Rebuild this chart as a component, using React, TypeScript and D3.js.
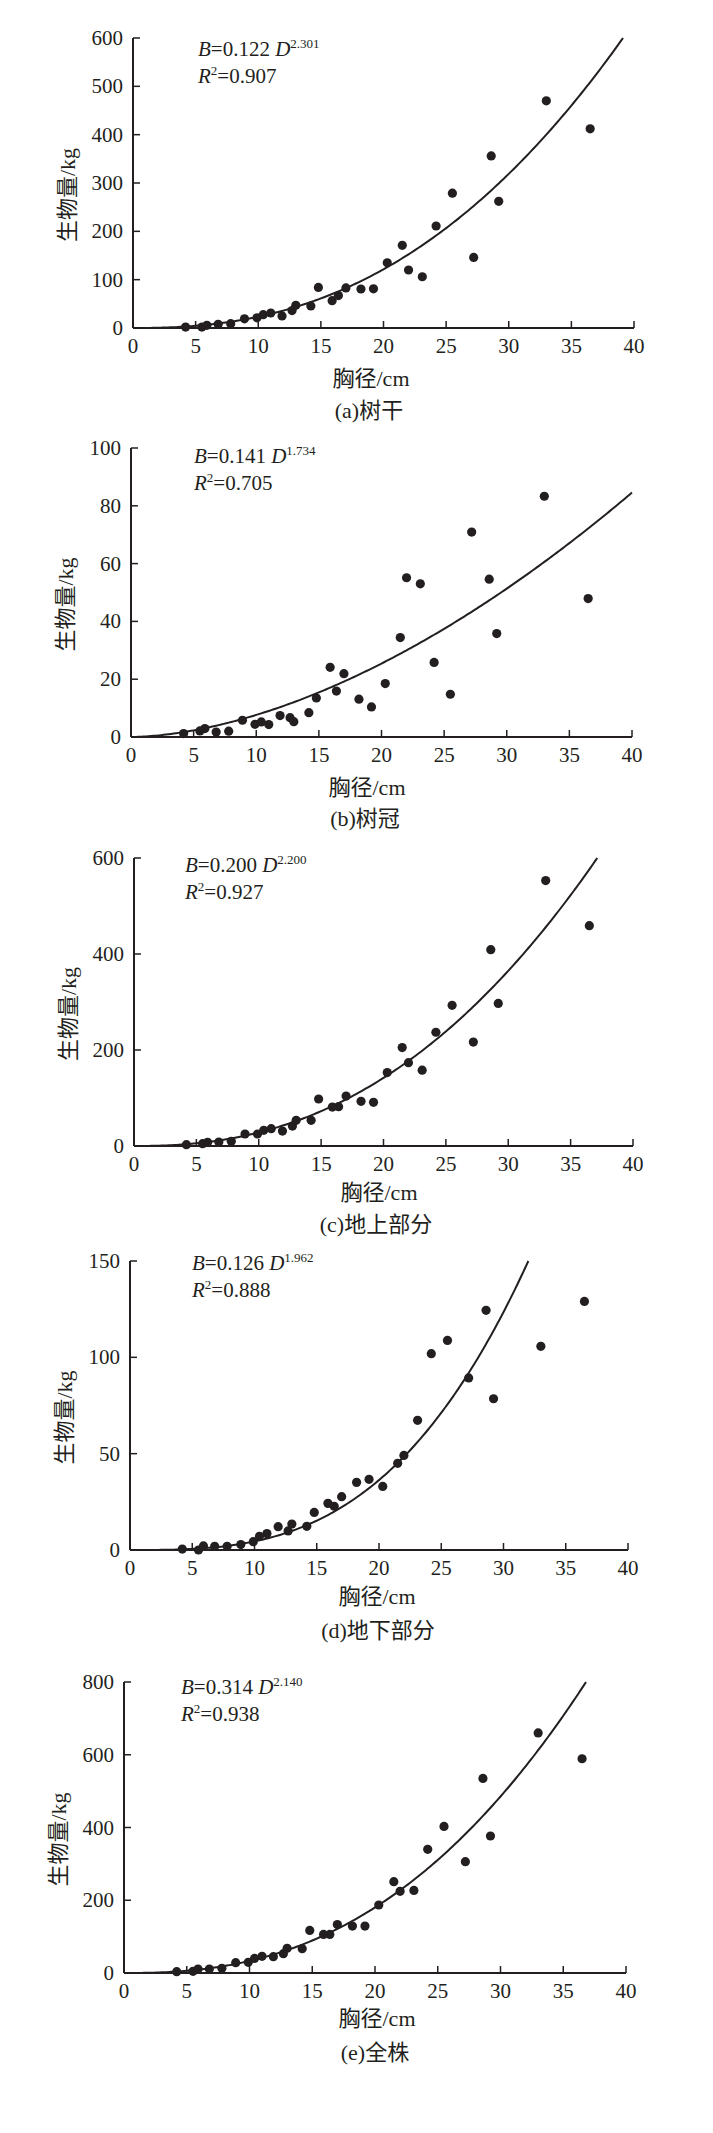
import * as React from 'react';
import * as d3 from 'd3';

// breast-height diameter (cm) of the sampled trees, shared by all panels
const dbh = [4.2, 5.5, 5.9, 6.8, 7.8, 8.9, 9.9, 10.4, 11.0, 11.9, 12.7, 13.0, 14.2, 14.8, 15.9,
  16.4, 17.0, 18.2, 19.2, 20.3, 21.5, 22.0, 23.1, 24.2, 25.5, 27.2, 28.6, 29.2, 33.0, 36.5];

// biomass (kg) per tree
const stemMass = [2, 2, 5.5, 7.6, 9, 19, 21, 27.6, 31, 25, 36, 47, 45.5, 84, 56.5,
  67, 83, 80.7, 81, 135, 171, 120, 106, 211, 279, 146, 356, 262, 470, 412];
const crownMass = [1.2, 2.1, 2.9, 1.7, 2, 5.8, 4.4, 5.2, 4.3, 7.4, 6.7, 5.3, 8.4, 13.5, 24.1,
  15.9, 21.9, 13.1, 10.4, 18.5, 34.4, 55.1, 53, 25.8, 14.8, 70.9, 54.6, 35.8, 83.3, 47.9];
const aboveMass = [2.8, 4.9, 7.6, 8.3, 9.7, 25, 25, 32.6, 36, 31, 41.6, 53.4, 53.4, 97.9, 81,
  82, 104, 93, 91, 153, 205, 173.5, 158, 237, 293, 216.5, 409, 297, 553, 459];
const belowMass = [0.5, 0, 2.1, 1.9, 1.9, 2.8, 4.3, 7.1, 8.5, 12.1, 9.9, 13.5, 12.3, 19.5, 24.2,
  22.7, 27.7, 35.1, 36.7, 33, 45, 49.1, 67.3, 101.9, 108.8, 89.3, 124.4, 78.5, 105.7, 129];
const totalMass = [3.7, 4.6, 11, 11, 12.8, 28.4, 29.3, 40, 45.8, 45, 53, 67.8, 67, 117, 106,
  106, 133, 129, 129, 187, 251, 224.5, 227, 340, 403, 306, 535, 376.6, 660, 589];

const seriesList = [stemMass, crownMass, aboveMass, belowMass, totalMass];
const captions = ['(a)树干', '(b)树冠', '(c)地上部分', '(d)地下部分', '(e)全株'];
const coefText = ['0.122', '0.141', '0.200', '0.126', '0.314'];
const expText = ['2.301', '1.734', '2.200', '1.962', '2.140'];
const r2Text = ['0.907', '0.705', '0.927', '0.888', '0.938'];
const yMaxList = [600, 100, 600, 150, 800];
const yStepList = [100, 20, 200, 50, 200];
const xTicks = [0, 5, 10, 15, 20, 25, 30, 35, 40];
// power curve B = a * D^b as drawn in each panel
const curveA = [0.0973, 0.141, 0.132, 0.004273, 0.1195];
const curveB = [2.38, 1.734, 2.33, 3.02, 2.443];
const curveStart = [0, 0, 0, 0.7, 0];

// layout (pixels)
const leftList = [133, 131, 134, 130, 124];
const rightList = [634, 632, 633, 628, 626];
const topList = [38, 448, 858, 1261, 1682];
const bottomList = [328, 737, 1146, 1550, 1973];
const eqXList = [198, 194, 185, 192, 181];
const eqDyList = [18, 15, 14, 9, 12];
const titleXList = [371, 367, 379, 377, 377];
const titleDyList = [58, 58, 54, 54, 53];
const captionXList = [369, 365, 376, 378, 375];
const captionDyList = [90, 89, 86, 88, 87];

const ink = '#231f20';
const serif = "'Liberation Serif', 'Times New Roman', 'Noto Sans CJK SC', serif";

function Panel({ i }: { i: number }) {
  const left = leftList[i], right = rightList[i], top = topList[i], bottom = bottomList[i];
  const yMax = yMaxList[i];
  const x = d3.scaleLinear().domain([0, 40]).range([left, right]);
  const y = d3.scaleLinear().domain([0, yMax]).range([bottom, top]);
  const yTicks = d3.range(0, yMax + 0.001, yStepList[i]);

  const a = curveA[i], b = curveB[i];
  const dEnd = Math.min(40, Math.pow(yMax / a, 1 / b));
  const ds = d3.range(curveStart[i], dEnd, 0.2).concat([dEnd]);
  const line = d3.line<number>().x(d => x(d)).y(d => y(a * Math.pow(d, b)));

  const values = seriesList[i];
  const eqY = top + eqDyList[i];
  const midY = (top + bottom) / 2 + 12;

  return (
    <g>
      <path d={line(ds) || ''} fill="none" stroke={ink} strokeWidth={2} />
      {values.map((v, k) => (
        <circle key={k} cx={x(dbh[k])} cy={y(v)} r={4.6} fill={ink} />
      ))}
      <line x1={left} y1={bottom} x2={right} y2={bottom} stroke={ink} strokeWidth={2} />
      <line x1={left} y1={bottom} x2={left} y2={top} stroke={ink} strokeWidth={2} />
      {xTicks.map(t => (
        <g key={t}>
          <line x1={x(t)} x2={x(t)} y1={bottom} y2={bottom - 7} stroke={ink} strokeWidth={1.5} />
          <text x={x(t)} y={bottom + 25} textAnchor="middle" fontSize={21} fill={ink}>{t}</text>
        </g>
      ))}
      {yTicks.map(t => (
        <g key={t}>
          <line x1={left} x2={left + 7} y1={y(t)} y2={y(t)} stroke={ink} strokeWidth={1.5} />
          <text x={left - 10} y={y(t) + 7} textAnchor="end" fontSize={21} fill={ink}>{t}</text>
        </g>
      ))}
      <text x={eqXList[i]} y={eqY} fontSize={21} fill={ink}>
        <tspan fontStyle="italic">B</tspan>={coefText[i]} <tspan fontStyle="italic">D</tspan>
        <tspan fontSize={13} dy={-8}>{expText[i]}</tspan>
      </text>
      <text x={eqXList[i]} y={eqY + 27} fontSize={21} fill={ink}>
        <tspan fontStyle="italic">R</tspan>
        <tspan fontSize={13} dy={-8}>2</tspan>
        <tspan dy={8}>={r2Text[i]}</tspan>
      </text>
      <text x={titleXList[i]} y={bottom + titleDyList[i]} textAnchor="middle" fontSize={22} fill={ink}>胸径/cm</text>
      <text x={captionXList[i]} y={bottom + captionDyList[i]} textAnchor="middle" fontSize={22} fill={ink}>{captions[i]}</text>
      <text transform={`translate(${left - 58}, ${midY}) rotate(-90)`} textAnchor="middle" fontSize={22} fill={ink}>生物量/kg</text>
    </g>
  );
}

export default function App() {
  return (
    <svg width={713} height={2133} style={{ position: 'absolute', left: 0, top: 0, background: '#fff' }}
      fontFamily={serif}>
      <rect width={713} height={2133} fill="#fff" />
      {captions.map((_c, i) => <Panel key={i} i={i} />)}
    </svg>
  );
}
